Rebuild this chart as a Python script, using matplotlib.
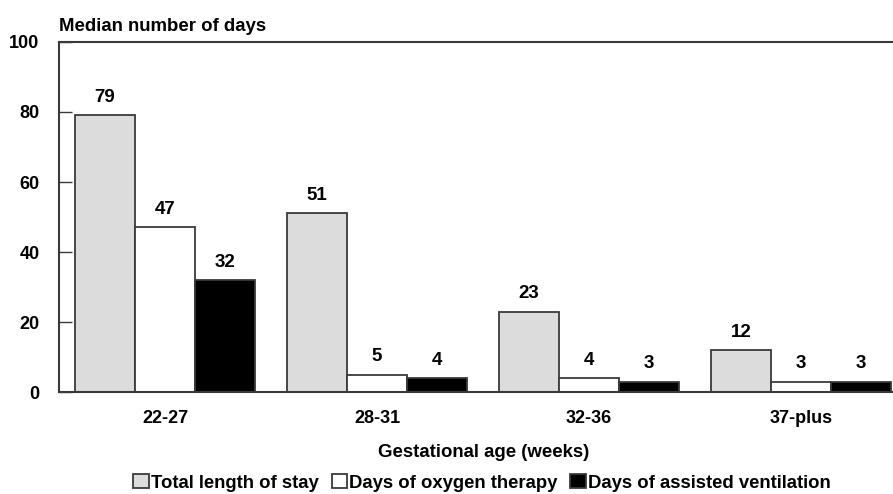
import matplotlib
matplotlib.use("Agg")
import matplotlib.pyplot as plt
import numpy as np

plt.rcParams["font.family"] = ["Liberation Sans", "DejaVu Sans"]
plt.rcParams["font.weight"] = "bold"

age_groups = ["22-27", "28-31", "32-36", "37-plus"]
series_names = ["Total length of stay", "Days of oxygen therapy", "Days of assisted ventilation"]
total_stay = [79, 51, 23, 12]
oxygen_days = [47, 5, 4, 3]
ventilation_days = [32, 4, 3, 3]
y_ticks = [0, 20, 40, 60, 80, 100]

series = [total_stay, oxygen_days, ventilation_days]
fills = ["#dcdcdc", "#ffffff", "#000000"]
edge = "#3a3a3a"

fig = plt.figure(figsize=(8.93, 4.94), dpi=100)
ax = fig.add_axes([59 / 893, 1 - 392 / 494, 1 - 59 / 893, 350 / 494])

x = np.arange(len(age_groups))
width = 60 / 212
offsets = [-width, 0, width]

handles = []
for vals, fc, off, name in zip(series, fills, offsets, series_names):
    bars = ax.bar(x + off, vals, width=width, color=fc, edgecolor=edge,
                  linewidth=1.3, label=name, zorder=2)
    handles.append(bars)
    for b, v in zip(bars, vals):
        ax.annotate(f"{v}", (b.get_x() + b.get_width() / 2, v),
                    xytext=(0, 6.5), textcoords="offset points",
                    ha="center", va="bottom", fontsize=13.5, fontweight="bold")

ax.set_ylim(0, 100)
ax.set_xlim(-0.5, (893 - 165) / 212)
ax.set_yticks(y_ticks)
ax.set_xticks(x)
ax.set_xticklabels(age_groups)
ax.tick_params(axis="y", direction="in", length=9, width=1.0, color=edge,
               pad=14, labelsize=13)
ax.tick_params(axis="x", length=0, pad=13, labelsize=13)
for lbl in ax.get_xticklabels() + ax.get_yticklabels():
    lbl.set_fontweight("bold")

for s in ["left", "top", "bottom"]:
    ax.spines[s].set_color(edge)
    ax.spines[s].set_linewidth(1.5)
ax.spines["right"].set_visible(False)

fig.text(59 / 893, 1 - 31 / 494, "Median number of days", ha="left",
         va="baseline", fontsize=13.4, fontweight="bold")
fig.text(484 / 893, 1 - 452 / 494, "Gestational age (weeks)", ha="center",
         va="center", fontsize=13.4, fontweight="bold")

fig.legend(handles=handles, labels=series_names, loc="center",
           bbox_to_anchor=(482 / 893, 11 / 494), ncol=3, frameon=False,
           handlelength=0.85, handleheight=0.75, handletextpad=0.1,
           columnspacing=0.7, borderaxespad=0, borderpad=0,
           prop={"size": 13.3, "weight": "bold"})

fig.savefig("out.png", dpi=100)
